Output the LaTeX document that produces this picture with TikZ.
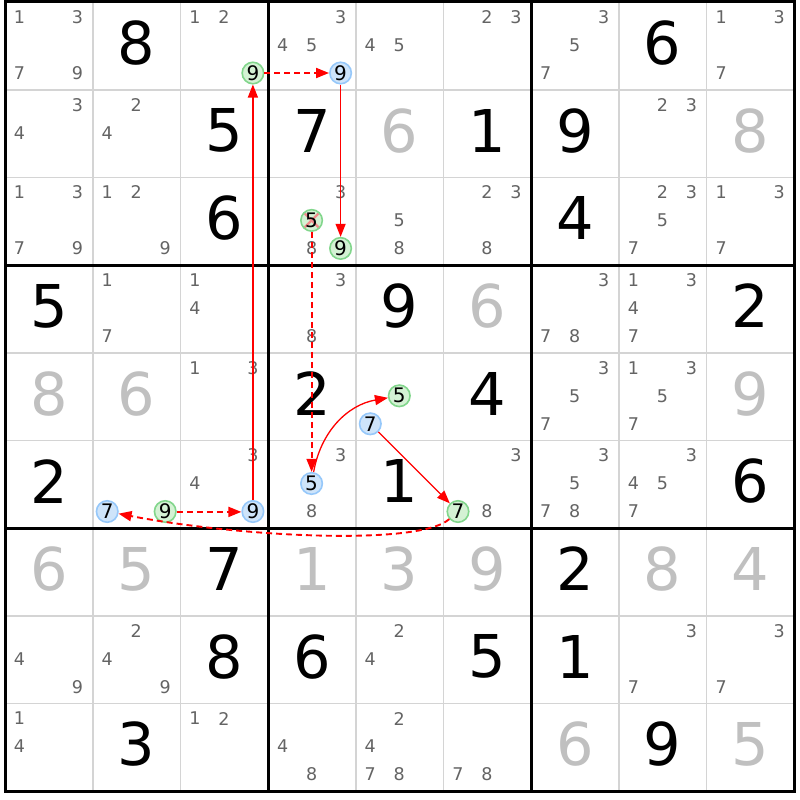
\documentclass[tikz,border=0pt]{standalone}
\usepackage{fontspec}
\setmainfont{DejaVu Sans}
\usetikzlibrary{arrows.meta}
\definecolor{candgray}{RGB}{100,100,100}
\definecolor{solvedgray}{RGB}{192,192,192}
\definecolor{gridgray}{RGB}{212,212,212}
\definecolor{bfill}{RGB}{206,228,250}
\definecolor{bdraw}{RGB}{150,200,250}
\definecolor{gfill}{RGB}{212,242,212}
\definecolor{gdraw}{RGB}{130,214,140}
\definecolor{xred}{RGB}{240,140,140}
\definecolor{chainred}{RGB}{255,0,0}
\tikzset{
  gridthin/.style={draw=gridgray,line width=1.6pt},
  gridthick/.style={draw=black,line width=3pt},
  cand/.style={inner sep=0pt,text=candgray,font=\fontsize{17.5}{18}\selectfont},
  given/.style={inner sep=0pt,text=black,font=\fontsize{59}{60}\selectfont},
  solved/.style={inner sep=0pt,text=solvedgray,font=\fontsize{59}{60}\selectfont},
  cbase/.style={circle,inner sep=0pt,minimum size=21.5pt,line width=1.6pt,text=black,font=\fontsize{20}{20}\selectfont},
  cblue/.style={cbase,fill=bfill,draw=bdraw},
  cgreen/.style={cbase,fill=gfill,draw=gdraw},
  crossed/.style={path picture={\draw[xred,line width=2.2pt] ([shift={(-7pt,-7pt)}]path picture bounding box.center) -- ([shift={(7pt,7pt)}]path picture bounding box.center) ([shift={(-7pt,7pt)}]path picture bounding box.center) -- ([shift={(7pt,-7pt)}]path picture bounding box.center);}},
  chainarrow/.style={color=chainred,line width=1.3pt,-{Triangle[length=13pt,width=10pt]}},
  chaindash/.style={color=chainred,line width=1.9pt,dash pattern=on 6pt off 4pt,-{Triangle[length=13pt,width=10pt]}}
}
\newcommand\gv[3]{\node[given] at ({5+87.7*(#2-0.5)},{-(2+87.7*(#1-0.5)-3)}) {#3};}
\newcommand\gs[3]{\node[solved] at ({5+87.7*(#2-0.5)},{-(2+87.7*(#1-0.5)-3)}) {#3};}
\newcommand\cands[3]{\foreach \dd in {#3}{\node[cand] at ({5+87.7*(#2-1)+14.5+29*mod(\dd-1,3)},{-(2+87.7*(#1-1)+15+28*floor((\dd-1)/3))}) {\dd};}}
\newcommand\cc[5]{\node[#2] (#1) at ({5+87.7*(#4-1)+14.5+29*mod(#5-1,3)},{-(2+87.7*(#3-1)+15+28*floor((#5-1)/3))}) {#5};}
\begin{document}
\begin{tikzpicture}[x=1pt,y=1pt]
\useasboundingbox (0,0) rectangle (800,-800);
\fill[white] (0,0) rectangle (800,-800);
% grid
\foreach \i in {1,2,4,5,7,8}{
  \draw[gridthin] ({5+87.7*\i},-2) -- ({5+87.7*\i},{-(2+87.7*9)});
  \draw[gridthin] (5,{-(2+87.7*\i)}) -- ({5+87.7*9},{-(2+87.7*\i)});
}
\foreach \i in {3,6}{
  \draw[gridthick] ({5+87.7*\i},-2) -- ({5+87.7*\i},{-(2+87.7*9)});
  \draw[gridthick] (5,{-(2+87.7*\i)}) -- ({5+87.7*9},{-(2+87.7*\i)});
}
\draw[gridthick] (5,-2) rectangle ({5+87.7*9},{-(2+87.7*9)});
% givens
\gv{1}{2}{8}\gv{1}{8}{6}
\gv{2}{3}{5}\gv{2}{4}{7}\gv{2}{6}{1}\gv{2}{7}{9}
\gv{3}{3}{6}\gv{3}{7}{4}
\gv{4}{1}{5}\gv{4}{5}{9}\gv{4}{9}{2}
\gv{5}{4}{2}\gv{5}{6}{4}
\gv{6}{1}{2}\gv{6}{5}{1}\gv{6}{9}{6}
\gv{7}{3}{7}\gv{7}{7}{2}
\gv{8}{3}{8}\gv{8}{4}{6}\gv{8}{6}{5}\gv{8}{7}{1}
\gv{9}{2}{3}\gv{9}{8}{9}
% solved (gray)
\gs{2}{5}{6}\gs{2}{9}{8}\gs{4}{6}{6}\gs{5}{1}{8}\gs{5}{2}{6}\gs{5}{9}{9}
\gs{7}{1}{6}\gs{7}{2}{5}\gs{7}{4}{1}\gs{7}{5}{3}\gs{7}{6}{9}\gs{7}{8}{8}\gs{7}{9}{4}
\gs{9}{7}{6}\gs{9}{9}{5}
% candidates
\cands{1}{1}{1,3,7,9}\cands{1}{3}{1,2}\cands{1}{4}{3,4,5}\cands{1}{5}{4,5}\cands{1}{6}{2,3}\cands{1}{7}{3,5,7}\cands{1}{9}{1,3,7}
\cands{2}{1}{3,4}\cands{2}{2}{2,4}\cands{2}{8}{2,3}
\cands{3}{1}{1,3,7,9}\cands{3}{2}{1,2,9}\cands{3}{4}{3,8}\cands{3}{5}{5,8}\cands{3}{6}{2,3,8}\cands{3}{8}{2,3,5,7}\cands{3}{9}{1,3,7}
\cands{4}{2}{1,7}\cands{4}{3}{1,4}\cands{4}{4}{3,8}\cands{4}{7}{3,7,8}\cands{4}{8}{1,3,4,7}
\cands{5}{3}{1,3}\cands{5}{7}{3,5,7}\cands{5}{8}{1,3,5,7}
\cands{6}{3}{3,4}\cands{6}{4}{3,8}\cands{6}{6}{3,8}\cands{6}{7}{3,5,7,8}\cands{6}{8}{3,4,5,7}
\cands{8}{1}{4,9}\cands{8}{2}{2,4,9}\cands{8}{5}{2,4}\cands{8}{8}{3,7}\cands{8}{9}{3,7}
\cands{9}{1}{1,4}\cands{9}{3}{1,2}\cands{9}{4}{4,8}\cands{9}{5}{2,4,7,8}\cands{9}{6}{7,8}
% chain candidates
\cc{g139}{cgreen}{1}{3}{9}
\cc{b149}{cblue}{1}{4}{9}
\cc{g345}{cgreen,crossed}{3}{4}{5}
\cc{g349}{cgreen}{3}{4}{9}
\cc{b645}{cblue}{6}{4}{5}
\cc{g555}{cgreen}{5}{5}{5}
\cc{b557}{cblue}{5}{5}{7}
\cc{g667}{cgreen}{6}{6}{7}
\cc{b627}{cblue}{6}{2}{7}
\cc{g629}{cgreen}{6}{2}{9}
\cc{b639}{cblue}{6}{3}{9}
% chain
\draw[chaindash] (g139) -- (b149);
\draw[chaindash] ([yshift=-0.4pt]g629.east) -- ([yshift=-0.4pt]b639.west);
\draw[chaindash] (g345) -- (b645);
\draw[chainarrow] (b639) -- (g139);
\draw[chainarrow] (b149) -- (g349);
\draw[chainarrow] (b645) to[bend left=35] (g555);
\draw[chainarrow] (b557) -- (g667);
\draw[chaindash] (g667) .. controls +(-40,-35) and +(130,-25) .. (b627);
\end{tikzpicture}
\end{document}
